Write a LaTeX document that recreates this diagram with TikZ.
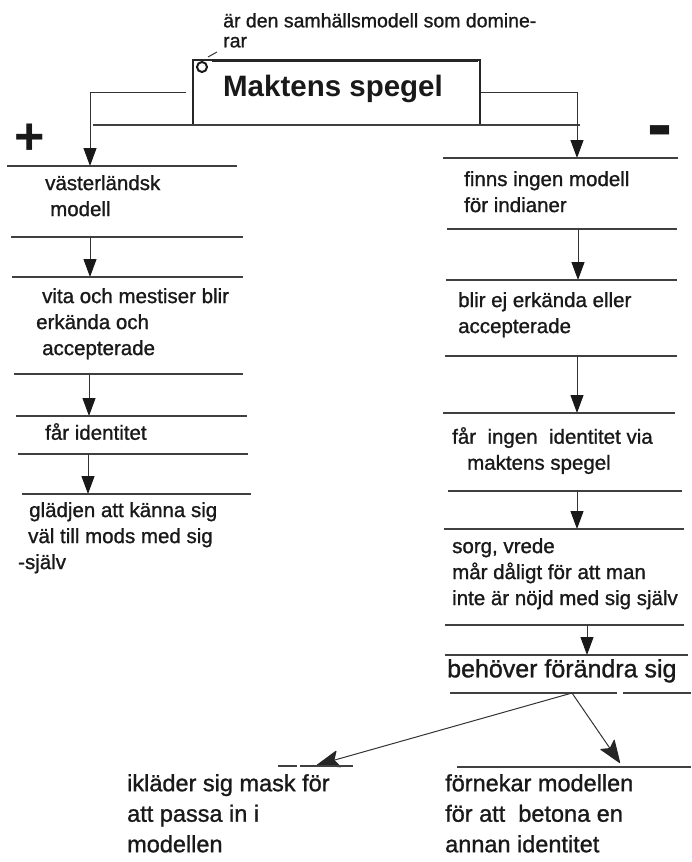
\documentclass[tikz,border=0pt]{standalone}
\usepackage{fontspec}
\setmainfont{Liberation Sans}
\newfontfamily\medium[FakeBold=1.1]{Liberation Sans}
\usetikzlibrary{arrows.meta}
\begin{document}
\begin{tikzpicture}[x=1pt,y=-1pt,
  sepline/.style={draw=black!75, line width=1.1pt},
  arr/.style={draw=black!80, line width=1pt, -{Triangle[length=18pt,width=13pt,color=black!90]}},
  leafarr/.style={draw=black!80, line width=1pt, -{Stealth[length=24pt,width=18pt,inset=5pt,round,color=black!85,fill=black!85]}},
  body/.style={anchor=north west, inner sep=0pt, align=left, font=\medium\fontsize{20.5}{26}\selectfont, text=black!90},
  big/.style={body, font=\medium\fontsize{23.5}{30.5}\selectfont},
  captext/.style={body, font=\medium\fontsize{19.5}{20}\selectfont},
  titlebox/.style={draw=black!85, line width=1.5pt, minimum width=287pt, minimum height=65pt, inner sep=0pt},
  titletext/.style={inner sep=0pt, font=\fontsize{29.5}{30}\selectfont\bfseries, text=black!90},
  sign/.style={inner sep=0pt, font=\fontsize{52}{52}\selectfont\bfseries, text=black!90},
]
\useasboundingbox (0,0) rectangle (691,862);

% ---------- top ----------
\node[captext] (caption) at (223,13) {är den samhällsmodell som domine-\\rar};
\node[titlebox] (title) at (336.5,92.5) {};
\node[titletext] (titletxt) at (333,89) {Maktens spegel};
\draw[black!85, line width=2.4pt] (212,60.5) -- (478,60.5);
\node[draw=black!90, line width=2pt, circle, minimum size=10pt, inner sep=0pt, fill=white] (ring) at (202,67) {};
\draw[black!80, line width=1pt] (208,57) -- (217,52);

\draw[sepline] (93,125) -- (580,125);
\coordinate (la) at (90,166);
\coordinate (ra) at (577,158);
\draw[arr] ([xshift=-6pt]title.west) -| (la);
\draw[arr] (title.east) -| (ra);

\node[sign] (plus) at (30,139) {+};
\node[sign] (minus) at (660,138) {\scalebox{1.45}[1.5]{-}};

% ---------- left column ----------
\draw[sepline] (7,166) -- (237,166);
\node[body] (l1) at (45,175) {västerländsk\\\hspace{5pt}modell};
\draw[sepline] (11,237) -- (243,237);
\coordinate (l1b) at (90,237);
\coordinate (l2t) at (90,277);
\draw[arr] (l1b) -- (l2t);
\draw[sepline] (12,277) -- (243,277);
\node[body] (l2) at (36,288) {\hspace{6pt}vita och mestiser blir\\erkända och\\\hspace{6pt}accepterade};
\draw[sepline] (14,374) -- (243,374);
\coordinate (l2b) at (89,374);
\coordinate (l3t) at (89,416);
\draw[arr] (l2b) -- (l3t);
\draw[sepline] (16,416) -- (247,416);
\node[body] (l3) at (45,423) {får identitet};
\draw[sepline] (18,454) -- (248,454);
\coordinate (l3b) at (88,454);
\coordinate (l4t) at (88,494);
\draw[arr] (l3b) -- (l4t);
\draw[sepline] (22,494) -- (251,494);
\node[body] (l4) at (18,502) {\hspace{11pt}glädjen att känna sig\\\hspace{10pt}väl till mods med sig\\-själv};

% ---------- right column ----------
\draw[sepline] (443,158) -- (678,158);
\node[body] (r1) at (464,171) {finns ingen modell\\för indianer};
\draw[sepline] (447,229) -- (677,229);
\coordinate (r1b) at (578,229);
\coordinate (r2t) at (578,280);
\draw[arr] (r1b) -- (r2t);
\draw[sepline] (446,280) -- (677,280);
\node[body] (r2) at (458,292) {blir ej erkända eller\\accepterade};
\draw[sepline] (445,356) -- (677,356);
\coordinate (r2b) at (577,356);
\coordinate (r3t) at (577,413);
\draw[arr] (r2b) -- (r3t);
\draw[sepline] (443,413) -- (675,413);
\node[body] (r3) at (452,427) {får\ \ ingen\ \ identitet via\\\hspace{15pt}maktens spegel};
\draw[sepline] (448,491) -- (682,491);
\coordinate (r3b) at (577,491);
\coordinate (r4t) at (577,529);
\draw[arr] (r3b) -- (r4t);
\draw[sepline] (444,529) -- (684,529);
\node[body] (r4) at (452,538) {sorg, vrede\\mår dåligt för att man\\inte är nöjd med sig själv};
\draw[sepline] (445,625) -- (684,625);
\coordinate (r4b) at (587,625);
\coordinate (r5t) at (587,655);
\draw[arr] (r4b) -- (r5t);
\draw[sepline] (445,655) -- (688,655);
\node[body, font=\medium\fontsize{25}{30}\selectfont] (r5) at (447,659) {behöver förändra sig};
\draw[sepline] (450,693) -- (617,693);
\draw[sepline] (623,693) -- (691,693);

% ---------- split ----------
\coordinate (split) at (572,693);
\coordinate (bl) at (317,765);
\coordinate (br) at (620,763);
\draw[leafarr] (split) -- (bl);
\draw[leafarr] (split) -- (br);
\draw[sepline] (278,766) -- (297,766);
\draw[sepline] (300,766) -- (353,766);
\draw[sepline] (457,767) -- (623,767);
\draw[sepline] (623,767) -- (691,767);

\node[big] (b1) at (127,774) {ikläder sig mask för\\att passa in i\\modellen};
\node[big] (b2) at (445,774) {förnekar modellen\\för att\ \ betona en\\annan identitet};
\end{tikzpicture}
\end{document}
